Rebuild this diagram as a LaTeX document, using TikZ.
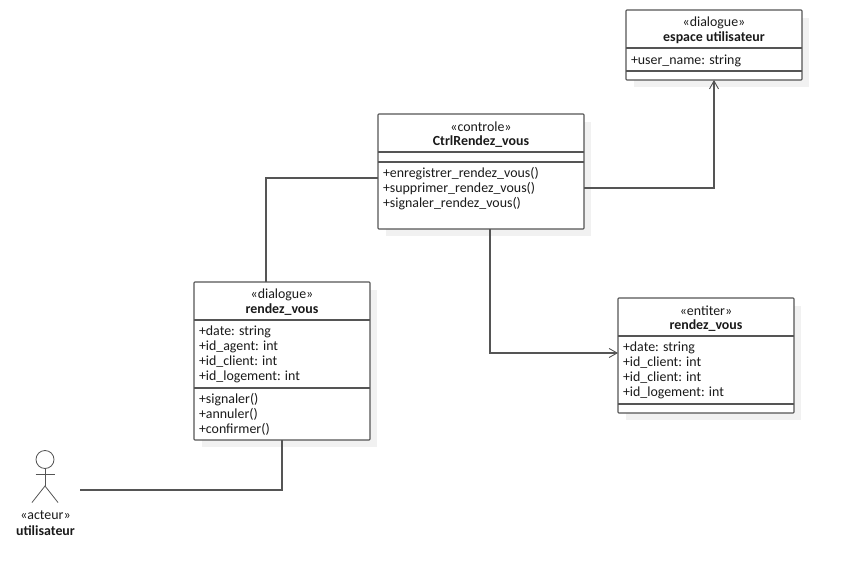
\documentclass[tikz,border=0pt]{standalone}
\usepackage{fontspec}
\setmainfont{Carlito}
\usetikzlibrary{arrows.meta}
\definecolor{umlline}{HTML}{555555}
\definecolor{umlshadow}{HTML}{F1F1F1}
\definecolor{umltext}{HTML}{1A1A1A}
\tikzset{
  x=1bp,y=-1bp,
  umlbox/.style={draw=umlline,line width=1.1bp,fill=white,rounded corners=0.8bp,inner sep=0,outer sep=0,anchor=north west},
  umlshade/.style={fill=umlshadow,draw=none},
  divider/.style={draw=umlline,line width=1.1bp},
  txt/.style={font=\fontsize{13.9bp}{16bp}\selectfont,text=umltext,inner sep=0,outer sep=0},
  title/.style={txt,anchor=center,align=center},
  member/.style={txt,anchor=west,align=left},
  conn/.style={draw=umlline,line width=1.1bp},
  openhead/.style={-{Straight Barb[length=8bp,width=9bp,line width=0.9bp]}},
  stick/.style={draw=umlline,line width=0.8bp},
}
\newcommand{\umlclass}[6]{% name, x1, y1, x2, y2, (unused)
  \fill[umlshade] (#2+8,#3+8) rectangle (#4+7,#5+7);
  \node[umlbox,minimum width=#4bp-#2bp,minimum height=#5bp-#3bp] (#1) at (#2,#3) {};
}
\begin{document}
\begin{tikzpicture}
\useasboundingbox (0,0) rectangle (842,582);
% espace utilisateur
\umlclass{esp}{626}{10}{802}{80}{}
\draw[divider] (626,48) -- (802,48);
\draw[divider] (626,71) -- (802,71);
\node[title] (esp1) at (714,22.5) {«dialogue»};
\node[title] (esp2) at (714,37.5) {\textbf{espace utilisateur}};
\node[member] (esp3) at (631,60.5) {+user\_name: string};
% CtrlRendez_vous
\umlclass{ctrl}{378}{114}{584}{229}{}
\draw[divider] (378,152) -- (584,152);
\draw[divider] (378,162) -- (584,162);
\node[title] (ctrl1) at (481,126.5) {«controle»};
\node[title] (ctrl2) at (481,141.5) {\textbf{CtrlRendez\_vous}};
\node[member] (ctrl3) at (383,173.5) {+enregistrer\_rendez\_vous()};
\node[member] (ctrl4) at (383,188.5) {+supprimer\_rendez\_vous()};
\node[member] (ctrl5) at (383,203.5) {+signaler\_rendez\_vous()};
% dialogue rendez_vous
\umlclass{dlg}{194}{282}{370}{440}{}
\draw[divider] (194,320) -- (370,320);
\draw[divider] (194,388) -- (370,388);
\node[title] (dlg1) at (282,294.5) {«dialogue»};
\node[title] (dlg2) at (282,309.5) {\textbf{rendez\_vous}};
\node[member] (dlg3) at (199,331.5) {+date: string};
\node[member] (dlg4) at (199,346.5) {+id\_agent: int};
\node[member] (dlg5) at (199,361.5) {+id\_client: int};
\node[member] (dlg6) at (199,376.5) {+id\_logement: int};
\node[member] (dlg7) at (199,399.5) {+signaler()};
\node[member] (dlg8) at (199,414.5) {+annuler()};
\node[member] (dlg9) at (199,429.5) {+confirmer()};
% entiter rendez_vous
\umlclass{ent}{618}{298}{794}{413}{}
\draw[divider] (618,336) -- (794,336);
\draw[divider] (618,404) -- (794,404);
\node[title] (ent1) at (706,310.5) {«entiter»};
\node[title] (ent2) at (706,325.5) {\textbf{rendez\_vous}};
\node[member] (ent3) at (623,347.5) {+date: string};
\node[member] (ent4) at (623,362.5) {+id\_client: int};
\node[member] (ent5) at (623,377.5) {+id\_client: int};
\node[member] (ent6) at (623,392.5) {+id\_logement: int};
% actor
\node[circle,draw=umlline,line width=0.8bp,minimum size=18bp,inner sep=0] (head) at (45,459.5) {};
\draw[stick] (head.south) -- (45,486) coordinate (hip);
\draw[stick] (35.5,474.5) -- (54.5,474.5);
\draw[stick] (32,502.5) -- (hip) -- (58,502.5);
\node[title] (act1) at (45.5,515.5) {«acteur»};
\node[title] (act2) at (45.5,530.5) {\textbf{utilisateur}};
\coordinate (actend) at (80,490);
% connectors
\draw[conn] (actend) -| (dlg.south);
\draw[conn] (ctrl.west |- 0,178) -| ([xshift=-16bp]dlg.north);
\draw[conn,openhead] (ctrl.east |- 0,188) -| (esp.south);
\draw[conn,openhead] ([xshift=9bp]ctrl.south) |- (ent.west |- 0,353);
\end{tikzpicture}
\end{document}
